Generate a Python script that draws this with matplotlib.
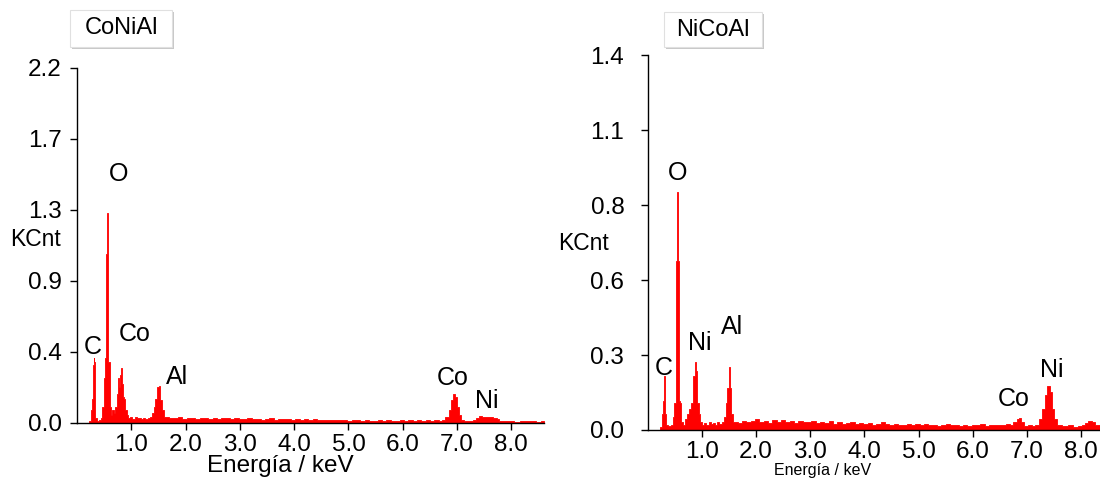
import numpy as np
import matplotlib
matplotlib.use("Agg")
import matplotlib.pyplot as plt
from matplotlib.patches import Rectangle

plt.rcParams['font.family'] = ['Liberation Sans', 'DejaVu Sans']

# ---- CoNiAl spectrum (energy keV, KCnt) ----
coni_peak1_e = [0.20, 0.25, 0.27, 0.28, 0.29, 0.30, 0.31, 0.32, 0.33, 0.35, 0.38, 0.42,
                0.45, 0.48, 0.50, 0.52, 0.54, 0.55, 0.56, 0.57, 0.59, 0.61, 0.63, 0.66,
                0.69, 0.72, 0.74, 0.76, 0.78, 0.80, 0.82, 0.84, 0.86, 0.88, 0.90, 0.93,
                0.96, 1.00, 1.04, 1.08, 1.12, 1.16, 1.20, 1.24, 1.28, 1.32, 1.36, 1.40,
                1.43, 1.46, 1.49, 1.52, 1.55, 1.58, 1.62]
coni_peak1_v = [0.0, 0.01, 0.08, 0.15, 0.15, 0.36, 0.40, 0.38, 0.10, 0.03, 0.01, 0.02,
                0.03, 0.10, 0.28, 0.40, 1.05, 1.08, 1.30, 0.40, 0.38, 0.10, 0.05, 0.08,
                0.06, 0.10, 0.18, 0.28, 0.22, 0.30, 0.34, 0.24, 0.16, 0.15, 0.08, 0.05,
                0.03, 0.04, 0.025, 0.035, 0.03, 0.028, 0.025, 0.03, 0.025, 0.03, 0.04, 0.06,
                0.10, 0.15, 0.22, 0.23, 0.14, 0.08, 0.04]
coni_base_v = [0.035, 0.03, 0.028, 0.034, 0.026, 0.03, 0.032, 0.025, 0.03, 0.028,
               0.026, 0.031, 0.024, 0.029, 0.033, 0.025, 0.028, 0.022, 0.027, 0.03,
               0.024, 0.026, 0.021, 0.025, 0.028, 0.02, 0.024, 0.022, 0.026, 0.019,
               0.023, 0.021, 0.025, 0.018, 0.022, 0.02, 0.017, 0.021, 0.019, 0.016,
               0.02, 0.017, 0.015, 0.019, 0.016, 0.014, 0.018, 0.015, 0.013, 0.016,
               0.014, 0.017, 0.013, 0.015, 0.018, 0.014, 0.016, 0.015, 0.017, 0.014,
               0.016, 0.015, 0.018]
coni_peak2_e = [6.70, 6.75, 6.82, 6.87, 6.91, 6.95, 6.98, 7.02, 7.06, 7.10, 7.16, 7.25,
                7.32, 7.38, 7.43, 7.48, 7.55, 7.62, 7.70, 7.76, 7.80, 7.90, 8.00, 8.10,
                8.20, 8.30, 8.40, 8.50, 8.60]
coni_peak2_v = [0.015, 0.02, 0.04, 0.08, 0.14, 0.18, 0.16, 0.10, 0.05, 0.02, 0.012, 0.015,
                0.02, 0.03, 0.045, 0.04, 0.035, 0.035, 0.03, 0.025, 0.012, 0.01, 0.012, 0.009,
                0.011, 0.01, 0.012, 0.009, 0.01]

# ---- NiCoAl spectrum ----
nico_peak1_e = [0.20, 0.24, 0.27, 0.28, 0.29, 0.30, 0.31, 0.32, 0.34, 0.40, 0.44, 0.47,
                0.50, 0.52, 0.535, 0.55, 0.565, 0.58, 0.60, 0.62, 0.66, 0.70, 0.74, 0.78,
                0.82, 0.86, 0.88, 0.90, 0.92, 0.95, 0.98, 1.02, 1.06, 1.10, 1.14, 1.18,
                1.22, 1.26, 1.30, 1.34, 1.38, 1.42, 1.45, 1.48, 1.50, 1.52, 1.55, 1.58]
nico_peak1_v = [0.0, 0.01, 0.06, 0.11, 0.11, 0.20, 0.20, 0.06, 0.02, 0.015, 0.02, 0.05,
                0.10, 0.11, 0.63, 0.89, 0.63, 0.11, 0.10, 0.03, 0.02, 0.04, 0.06, 0.08,
                0.10, 0.20, 0.255, 0.22, 0.10, 0.06, 0.03, 0.02, 0.025, 0.018, 0.03, 0.022,
                0.026, 0.02, 0.028, 0.022, 0.03, 0.05, 0.10, 0.155, 0.236, 0.155, 0.06, 0.03]
nico_base_v = [0.03, 0.025, 0.035, 0.028, 0.032, 0.04, 0.03, 0.034, 0.027, 0.036,
               0.031, 0.038, 0.029, 0.033, 0.026, 0.035, 0.03, 0.028, 0.034, 0.025,
               0.03, 0.027, 0.033, 0.024, 0.029, 0.022, 0.026, 0.031, 0.023, 0.027,
               0.021, 0.025, 0.02, 0.024, 0.028, 0.021, 0.019, 0.023, 0.02, 0.018,
               0.022, 0.019, 0.024, 0.018, 0.021, 0.017, 0.02, 0.016, 0.019, 0.022,
               0.017, 0.02, 0.016, 0.018, 0.015, 0.019, 0.017, 0.021, 0.016, 0.018,
               0.02, 0.017, 0.019, 0.022]
nico_peak2_e = [6.72, 6.78, 6.84, 6.88, 6.92, 6.98, 7.05, 7.12, 7.18, 7.25, 7.30, 7.35,
                7.40, 7.44, 7.48, 7.53, 7.58, 7.70, 7.80, 7.90, 8.00, 8.05, 8.10, 8.17,
                8.22, 8.28, 8.35]
nico_peak2_v = [0.02, 0.03, 0.04, 0.045, 0.03, 0.015, 0.018, 0.015, 0.02, 0.04, 0.08, 0.13,
                0.165, 0.14, 0.08, 0.04, 0.02, 0.015, 0.017, 0.012, 0.015, 0.02, 0.025, 0.035,
                0.03, 0.02, 0.02]

coni_labels = [("C", 0.29, 0.47), ("O", 0.76, 1.54), ("Co", 1.07, 0.55),
               ("Al", 1.84, 0.285), ("Co", 6.91, 0.28), ("Ni", 7.55, 0.136)]
nico_labels = [("C", 0.30, 0.231), ("O", 0.54, 0.96), ("Ni", 0.96, 0.325),
               ("Al", 1.55, 0.385), ("Co", 6.75, 0.116), ("Ni", 7.45, 0.224)]

coni_yticks = ['0.0', '0.4', '0.9', '1.3', '1.7', '2.2']
nico_yticks = ['0.0', '0.3', '0.6', '0.8', '1.1', '1.4']
xticks = [1, 2, 3, 4, 5, 6, 7, 8]

coni_e = np.concatenate([coni_peak1_e, np.round(np.arange(len(coni_base_v)) * 0.08 + 1.66, 2), coni_peak2_e])
coni_v = np.concatenate([coni_peak1_v, coni_base_v, coni_peak2_v])
nico_e = np.concatenate([nico_peak1_e, np.round(np.arange(len(nico_base_v)) * 0.08 + 1.62, 2), nico_peak2_e])
nico_v = np.concatenate([nico_peak1_v, nico_base_v, nico_peak2_v])

W, H = 1100, 480


def px(x, y):
    return x / W, 1 - y / H


fig = plt.figure(figsize=(11, 4.8), dpi=100)
ax1 = fig.add_axes([0.07, 0.1188, 0.4245, 0.7396])
ax2 = fig.add_axes([0.589, 0.1042, 0.411, 0.781])


def style(ax, e, v, ymax, ylabels, xmax, labels, ypad):
    ax.fill_between(e, 0, v, step='mid', color='#ff0000', lw=0.6, edgecolor='#ff0000')
    ax.set_xlim(0, xmax)
    ax.set_ylim(0, ymax)
    ax.set_yticks(np.linspace(0, ymax, 6))
    ax.set_yticklabels(ylabels)
    ax.set_xticks(xticks)
    ax.set_xticklabels(['%.1f' % t for t in xticks])
    for s in ['top', 'right']:
        ax.spines[s].set_visible(False)
    for s in ['left', 'bottom']:
        ax.spines[s].set_linewidth(1.0)
    ax.tick_params(direction='out', length=5, width=1, labelsize=17.5)
    ax.tick_params(axis='y', pad=ypad)
    ax.tick_params(axis='x', pad=3)
    ax.patch.set_alpha(0)
    for txt, x, y in labels:
        ax.text(x, y, txt, ha='center', va='center', fontsize=18)


style(ax1, coni_e, coni_v, 2.2, coni_yticks, 8.6, coni_labels, 6)
style(ax2, nico_e, nico_v, 1.4, nico_yticks, 8.35, nico_labels, 12)

# axis titles
fig.text(*px(36, 240), "KCnt", ha='center', va='center', fontsize=16.5)
fig.text(*px(583, 243), "KCnt", ha='center', va='center', fontsize=16.5)
fig.text(*px(280, 466), "Energía / keV", ha='center', va='center', fontsize=17.5)
fig.text(*px(823, 471), "Energía / keV", ha='center', va='center', fontsize=11.5)

# sample name boxes
for (x0, y0, x1, y1, name) in [(70, 10, 172, 47, "CoNiAl"), (664, 12, 762, 47, "NiCoAl")]:
    fig.patches.append(Rectangle(px(x0 + 2, y1 + 2), (x1 - x0) / W, (y1 - y0) / H,
                                 transform=fig.transFigure, facecolor='#c8c8c8', edgecolor='none'))
    fig.patches.append(Rectangle(px(x0, y1), (x1 - x0) / W, (y1 - y0) / H,
                                 transform=fig.transFigure, facecolor='white', edgecolor='#e0e0e0', lw=0.8))
    fig.text(*px((x0 + x1) / 2, (y0 + y1) / 2), name, ha='center', va='center', fontsize=17)

fig.savefig("out.png", dpi=100)
